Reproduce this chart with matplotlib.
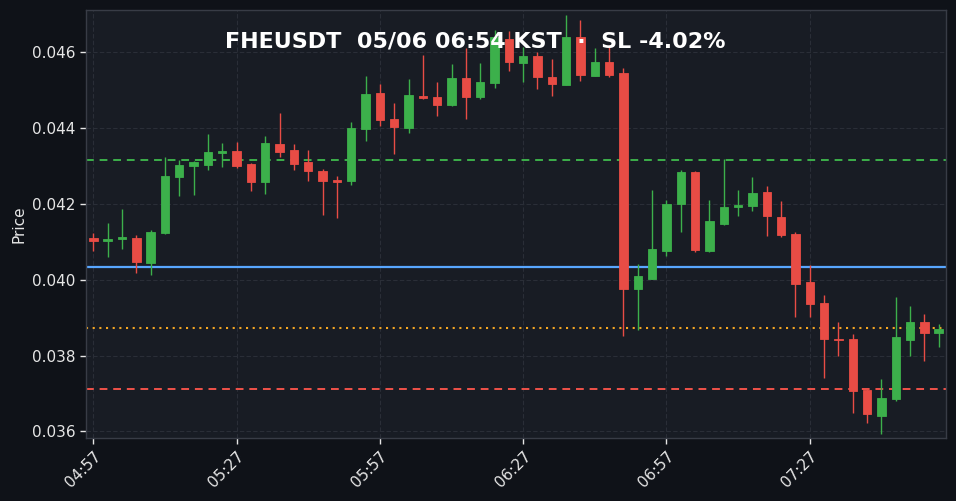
import numpy as np
import matplotlib
matplotlib.use("Agg")
import matplotlib.pyplot as plt

# 3-minute candles
times = ["04:57", "05:27", "05:57", "06:27", "06:57", "07:27"]

opens = [0.04111, 0.04103, 0.04108, 0.04111, 0.04045, 0.04124, 0.04272, 0.04301, 0.04304, 0.04336,
         0.04340, 0.04306, 0.04257, 0.04359, 0.04343, 0.04311, 0.04287, 0.04263, 0.04262, 0.04399,
         0.04493, 0.04425, 0.04401, 0.04485, 0.04483, 0.04462, 0.04533, 0.04483, 0.04520, 0.04636,
         0.04573, 0.04591, 0.04535, 0.04515, 0.04640, 0.04539, 0.04575, 0.04546, 0.03977, 0.04003,
         0.04077, 0.04201, 0.04285, 0.04077, 0.04148, 0.04191, 0.04196, 0.04231, 0.04166, 0.04121,
         0.03995, 0.03939, 0.03845, 0.03844, 0.03710, 0.03642, 0.03686, 0.03841, 0.03889, 0.03860]
highs = [0.04124, 0.04149, 0.04186, 0.04119, 0.04132, 0.04325, 0.04316, 0.04313, 0.04384, 0.04362,
         0.04365, 0.04308, 0.04379, 0.04440, 0.04359, 0.04342, 0.04292, 0.04274, 0.04416, 0.04539,
         0.04516, 0.04466, 0.04531, 0.04594, 0.04521, 0.04569, 0.04611, 0.04572, 0.04658, 0.04657,
         0.04614, 0.04601, 0.04582, 0.04698, 0.04685, 0.04611, 0.04614, 0.04560, 0.04041, 0.04238,
         0.04210, 0.04289, 0.04286, 0.04212, 0.04318, 0.04238, 0.04271, 0.04248, 0.04207, 0.04127,
         0.04039, 0.03959, 0.03888, 0.03858, 0.03712, 0.03738, 0.03956, 0.03932, 0.03909, 0.03884]
lows = [0.04075, 0.04060, 0.04081, 0.04017, 0.04012, 0.04122, 0.04221, 0.04223, 0.04289, 0.04297,
        0.04295, 0.04234, 0.04226, 0.04324, 0.04289, 0.04261, 0.04171, 0.04163, 0.04250, 0.04366,
        0.04405, 0.04331, 0.04387, 0.04478, 0.04432, 0.04460, 0.04424, 0.04478, 0.04506, 0.04552,
        0.04522, 0.04503, 0.04484, 0.04513, 0.04524, 0.04537, 0.04536, 0.03852, 0.03867, 0.04002,
        0.04062, 0.04126, 0.04073, 0.04073, 0.04146, 0.04169, 0.04181, 0.04117, 0.04112, 0.03901,
        0.03901, 0.03740, 0.03798, 0.03648, 0.03622, 0.03593, 0.03680, 0.03800, 0.03785, 0.03822]
closes = [0.04103, 0.04109, 0.04114, 0.04048, 0.04126, 0.04274, 0.04303, 0.04310, 0.04338, 0.04340,
          0.04301, 0.04257, 0.04360, 0.04338, 0.04307, 0.04286, 0.04262, 0.04259, 0.04401, 0.04490,
          0.04423, 0.04404, 0.04488, 0.04480, 0.04462, 0.04533, 0.04483, 0.04522, 0.04642, 0.04576,
          0.04591, 0.04536, 0.04518, 0.04641, 0.04541, 0.04574, 0.04541, 0.03977, 0.04010, 0.04082,
          0.04200, 0.04285, 0.04080, 0.04155, 0.04192, 0.04198, 0.04229, 0.04169, 0.04119, 0.03990,
          0.03937, 0.03845, 0.03841, 0.03708, 0.03646, 0.03688, 0.03849, 0.03889, 0.03860, 0.03870]

take_profit = 0.04315
entry = 0.04035
trigger = 0.03873
stop_loss = 0.03713

UP = "#3cb04b"
DOWN = "#e84c45"
BG = "#0f1218"
PANEL = "#181c24"
TXT = "#e6e6e6"

o = np.array(opens)
h = np.array(highs)
l = np.array(lows)
c = np.array(closes)
x = np.arange(len(o))
colors = [UP if cc >= oo else DOWN for oo, cc in zip(o, c)]

fig = plt.figure(figsize=(9.56, 5.01), dpi=100, facecolor=BG)
ax = fig.add_axes([0.090, 0.126, 0.8995, 0.854])
ax.set_facecolor(PANEL)

# wicks then bodies
ax.vlines(x, l, h, colors=colors, linewidth=1.0, zorder=2)
body_lo = np.minimum(o, c)
body_h = np.maximum(np.abs(c - o), 0.00003)
ax.bar(x, body_h, bottom=body_lo, width=0.6, color=colors, edgecolor=colors,
       linewidth=0.6, zorder=3)

ax.axhline(take_profit, color=UP, linestyle=(0, (4, 3)), linewidth=1.4, zorder=1)
ax.axhline(entry, color="#58a6ff", linestyle="-", linewidth=1.6, zorder=1)
ax.axhline(trigger, color="#f5a623", linestyle=(0, (1, 2.2)), linewidth=1.5, zorder=1)
ax.axhline(stop_loss, color="#f0524a", linestyle=(0, (4, 3)), linewidth=1.4, zorder=1)

ax.set_xlim(-0.5, 59.5)
ax.set_ylim(0.03583, 0.04712)
ax.set_yticks(np.arange(0.036, 0.0461, 0.002))
ax.set_yticklabels([f"{v:.3f}" for v in np.arange(0.036, 0.0461, 0.002)])
ax.set_xticks(np.arange(0, 60, 10))
ax.set_xticklabels(times, rotation=45, ha="right", rotation_mode="anchor")

ax.tick_params(colors=TXT, labelsize=11, length=4, width=1)
for lab in ax.get_xticklabels() + ax.get_yticklabels():
    lab.set_color(TXT)
ax.set_ylabel("Price", color=TXT, fontsize=11)

ax.grid(True, color="#2a2e37", linestyle=(0, (4, 2)), linewidth=0.8, zorder=0)
ax.set_axisbelow(True)
for sp in ax.spines.values():
    sp.set_color("#383c46")
    sp.set_linewidth(1.0)

fig.text(0.497, 0.918, "FHEUSDT  05/06 06:54 KST  \u00b7  SL -4.02%", color="white",
         fontsize=16, fontweight="bold", ha="center", va="center", zorder=10)

fig.savefig("out.png", dpi=100, facecolor=BG)
